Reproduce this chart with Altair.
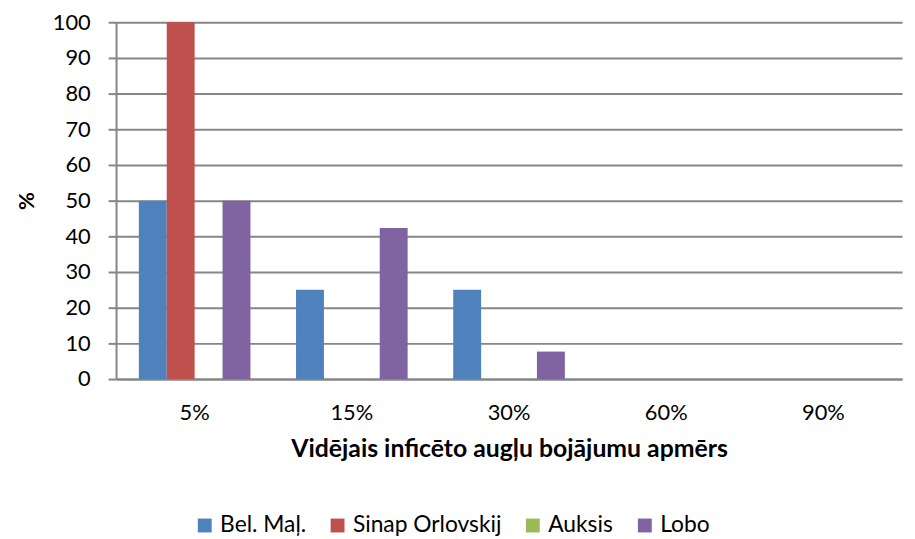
import altair as alt
import pandas as pd

categories = ["5%", "15%", "30%", "60%", "90%"]
series = ["Bel. Maļ.", "Sinap Orlovskij", "Auksis", "Lobo"]
colors = ["#4F81BD", "#C0504D", "#9BBB59", "#8064A2"]
values = {
    "Bel. Maļ.": [50, 25, 25, 0, 0],
    "Sinap Orlovskij": [100, 0, 0, 0, 0],
    "Auksis": [0, 0, 0, 0, 0],
    "Lobo": [50, 42.3, 7.7, 0, 0],
}

rows = []
for s in series:
    for c, v in zip(categories, values[s]):
        rows.append({"cat": c, "series": s, "value": v})
df = pd.DataFrame(rows)

FONT = "Lato"
FS = 22

chart = alt.Chart(df).mark_bar().encode(
    x=alt.X("cat:N", sort=categories,
            scale=alt.Scale(paddingInner=0.29, paddingOuter=0.145),
            axis=alt.Axis(title="Vidējais inficēto augļu bojājumu apmērs", labelAngle=0,
                          labelFontSize=FS, labelPadding=24, titleFontSize=25,
                          titleFontWeight="bold", titlePadding=13, ticks=False,
                          domainColor="#868686", domainWidth=2, labelColor="#000",
                          titleColor="#000", labelFont=FONT, titleFont=FONT)),
    xOffset=alt.XOffset("series:N", sort=series),
    y=alt.Y("value:Q", scale=alt.Scale(domain=[0, 100], nice=False),
            axis=alt.Axis(title="%", values=list(range(0, 101, 10)),
                          labelFontSize=FS, titleFontSize=FS, titleFontWeight="bold",
                          titlePadding=14, tickSize=8, tickColor="#868686", tickWidth=2,
                          domainColor="#868686", domainWidth=2, gridColor="#868686",
                          gridWidth=2, labelColor="#000", titleColor="#000",
                          labelFont=FONT, titleFont=FONT, labelPadding=18)),
    color=alt.Color("series:N", sort=series,
                    scale=alt.Scale(domain=series, range=colors),
                    legend=alt.Legend(title=None, orient="none", legendX=78, legendY=496,
                                      direction="horizontal", symbolType="square",
                                      symbolSize=196, symbolStrokeWidth=0,
                                      labelFontSize=23, labelFont=FONT, labelColor="#000",
                                      columnPadding=20, labelOffset=4, padding=0)),
).properties(
    width=793, height=360,
    padding={"left": 109, "top": 12, "right": 5, "bottom": 158},
    autosize=alt.AutoSizeParams(type="none"),
).configure_view(stroke=None)

chart.save("out.html", embed_options={"renderer": "svg", "actions": False})
